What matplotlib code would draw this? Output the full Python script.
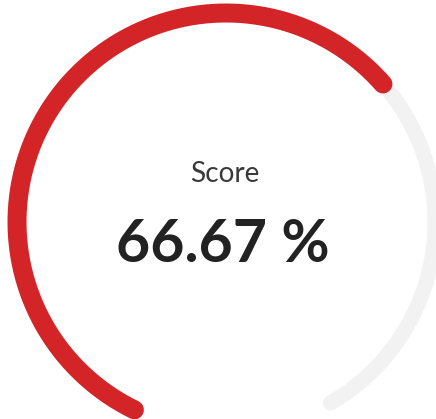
import numpy as np
import matplotlib
matplotlib.use("Agg")
import matplotlib.pyplot as plt

# data
label = "Score"
value = 66.67
vmin, vmax = 0.0, 100.0
start_angle, end_angle = 244.0, -60.0

W, H, DPI = 436, 419, 100
fig = plt.figure(figsize=(W / DPI, H / DPI), dpi=DPI)
ax = fig.add_axes([0, 0, 1, 1])
ax.set_xlim(0, W)
ax.set_ylim(H, 0)
ax.set_aspect("equal")
ax.axis("off")

cx, cy, r = 226.0, 222.0, 209.0
px = 72.0 / DPI

def arc(a0, a1, n=400):
    t = np.deg2rad(np.linspace(a0, a1, n))
    return cx + r * np.cos(t), cy - r * np.sin(t)

# track
x, y = arc(start_angle, end_angle)
ax.plot(x, y, color="#f2f2f2", lw=15 * px, solid_capstyle="round")

# value arc
frac = (value - vmin) / (vmax - vmin)
a_val = start_angle + (end_angle - start_angle) * frac
x, y = arc(start_angle, a_val)
ax.plot(x, y, color="#d32428", lw=19 * px, solid_capstyle="round")

ax.text(225, 174, label, ha="center", va="center", fontsize=28 * px,
        color="#3a3a3a", family="Lato")
ax.text(223, 245, f"{value:.2f} %", ha="center", va="center", fontsize=59 * px,
        color="#222222", family="Lato", fontweight="bold")

fig.savefig("out.png", dpi=DPI)
